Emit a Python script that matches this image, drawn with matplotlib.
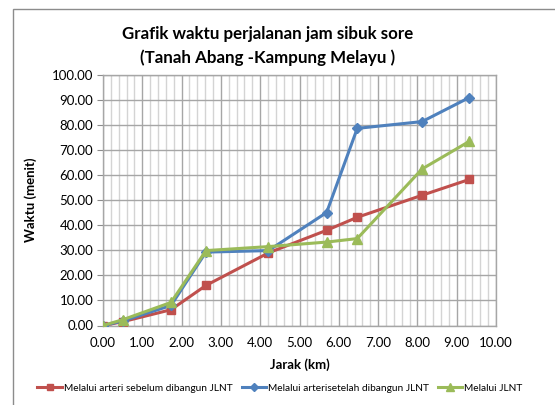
import matplotlib
matplotlib.use("Agg")
import matplotlib.pyplot as plt
from matplotlib.patches import Rectangle
from matplotlib.ticker import MultipleLocator

plt.rcParams['font.family'] = ['Lato', 'DejaVu Sans']

# data
jarak = [0.0, 0.5, 1.73, 2.62, 4.21, 5.69, 6.47, 8.12, 9.32]
sebelum = [0.0, 1.5, 6.3, 16.0, 29.0, 38.0, 43.2, 52.0, 58.3]
setelah = [0.0, 1.8, 8.0, 29.3, 29.9, 45.1, 78.7, 81.4, 91.0]
jlnt = [0.0, 2.3, 9.2, 29.9, 31.5, 33.3, 34.7, 62.5, 73.5]

labels = ['Melalui arteri sebelum dibangun JLNT',
          'Melalui arterisetelah dibangun JLNT',
          'Melalui JLNT']

fig = plt.figure(figsize=(5.55, 4.05), dpi=100)
ax = fig.add_axes([103 / 555, 1 - 325.5 / 405, 393 / 555, 250.5 / 405])

# outer chart frame
fig.patches.append(Rectangle((13 / 555, -0.1), 1.2, 1.1 - 9 / 405,
                             transform=fig.transFigure, fill=False,
                             edgecolor='#8c8c8c', linewidth=1))

ax.plot(jarak, sebelum, color='#C0504D', marker='s', markersize=6,
        linewidth=2.2, label=labels[0], zorder=3)
ax.plot(jarak, setelah, color='#4F81BD', marker='D', markersize=5.5,
        linewidth=2.2, label=labels[1], zorder=4)
ax.plot(jarak, jlnt, color='#9BBB59', marker='^', markersize=7.5,
        linewidth=2.2, label=labels[2], zorder=5)

ax.set_xlim(0, 10)
ax.set_ylim(0, 100)
ax.xaxis.set_major_locator(MultipleLocator(1))
ax.xaxis.set_minor_locator(MultipleLocator(0.2))
ax.yaxis.set_major_locator(MultipleLocator(10))
ax.xaxis.set_major_formatter(lambda v, p: f'{v:.2f}')
ax.yaxis.set_major_formatter(lambda v, p: f'{v:.2f}')

ax.grid(True, which='major', color='#a6a6a6', linewidth=1)
ax.grid(True, which='minor', axis='x', color='#d4d4d4', linewidth=1)
ax.set_axisbelow(True)
for s in ax.spines.values():
    s.set_color('#a6a6a6')
    s.set_linewidth(1)
ax.tick_params(axis='x', which='both', length=0, labelsize=9.5, pad=8)
ax.tick_params(axis='y', length=4, color='#8c8c8c', labelsize=9.5, pad=3)

ax.set_xlabel('Jarak (km)', fontsize=9.5, fontweight='bold', labelpad=7)
ax.set_ylabel('Waktu (menit)', fontsize=9.5, fontweight='bold', labelpad=11)

fig.text(268 / 555, 1 - 34 / 405, 'Grafik waktu perjalanan jam sibuk sore',
         ha='center', va='center', fontsize=12.2, fontweight='bold')
fig.text(268 / 555, 1 - 58 / 405, '(Tanah Abang -Kampung Melayu )',
         ha='center', va='center', fontsize=12.2, fontweight='bold')

fig.legend(loc='center', bbox_to_anchor=(280 / 555, 1 - 388 / 405), ncol=3,
           frameon=False, fontsize=7.3, handlelength=2.4, handletextpad=0.2,
           columnspacing=0.9, markerscale=0.8)

fig.savefig('out.png', dpi=100)
